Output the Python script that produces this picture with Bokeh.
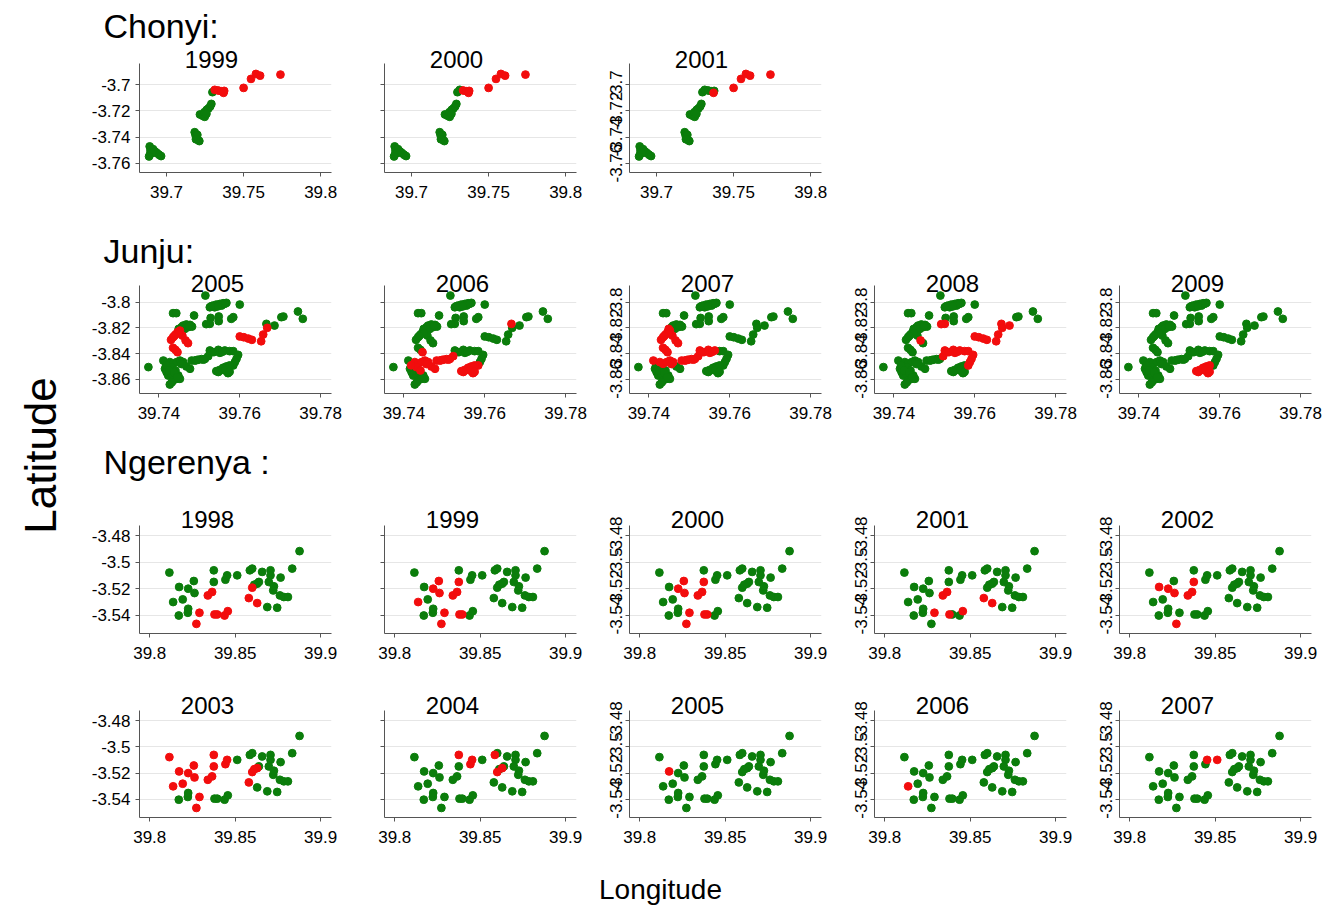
import math
from bokeh.plotting import figure
from bokeh.layouts import row, column
from bokeh.models import Label, FixedTicker, Range1d
from bokeh.embed import file_html
from bokeh.resources import INLINE

FONT = "Liberation Sans"
GREEN = "#0b7d0b"
RED = "#f20d0d"
AXC = "#555555"

# ---------------- Chonyi ----------------
chonyi_lon = [39.6891, 39.6896, 39.6893, 39.6913, 39.6926, 39.6939, 39.6952, 39.6965, 39.6907, 39.6887,
              39.7183, 39.7189, 39.7196, 39.7204, 39.7213, 39.7200, 39.7191,
              39.7217, 39.7235, 39.7248, 39.7246, 39.7261, 39.7272, 39.7283, 39.7291, 39.7259,
              39.7298, 39.7313, 39.7335, 39.7357, 39.7374, 39.7370, 39.7500, 39.7548, 39.7580, 39.7607, 39.7739]
chonyi_lat = [-3.7472, -3.7503, -3.7534, -3.7493, -3.7511, -3.7523, -3.7536, -3.7546, -3.7523, -3.7549,
              -3.7363, -3.7388, -3.7409, -3.7421, -3.7431, -3.7383, -3.7417,
              -3.7227, -3.7237, -3.7245, -3.7209, -3.7191, -3.7181, -3.7166, -3.7146, -3.7222,
              -3.7056, -3.7038, -3.7043, -3.7049, -3.7046, -3.7061, -3.7023, -3.6954, -3.6916, -3.6929, -3.6921]
chonyi_years = ["1999", "2000", "2001"]
# household numbers (1-based) shown in red for each year
chonyi_red_1999 = [28, 29, 30, 31, 32, 33, 34, 35, 36, 37]
chonyi_red_2000 = [29, 30, 31, 32, 33, 34, 35, 36, 37]
chonyi_red_2001 = [32, 33, 34, 35, 36, 37]
chonyi_xticks = [39.7, 39.75, 39.8]
chonyi_xlabels = ["39.7", "39.75", "39.8"]
chonyi_yticks = [-3.7, -3.72, -3.74, -3.76]
chonyi_ylabels = ["-3.7", "-3.72", "-3.74", "-3.76"]

# ---------------- Junju ----------------
junju_lon = [39.7374, 39.7515, 39.7526, 39.7534, 39.7542, 39.7551, 39.7559, 39.7567, 39.7538, 39.7555,
             39.7600, 39.7435, 39.7443, 39.7487, 39.7528, 39.7526, 39.7548, 39.7548, 39.7579, 39.7584,
             39.7460, 39.7468, 39.7477, 39.7482, 39.7456, 39.7452, 39.7446, 39.7441, 39.7435, 39.7430,
             39.7449, 39.7464, 39.7472, 39.7600, 39.7610, 39.7621, 39.7630, 39.7653, 39.7658, 39.7666,
             39.7668, 39.7686, 39.7703, 39.7708, 39.7744, 39.7756, 39.7435, 39.7441, 39.7446, 39.7481,
             39.7489, 39.7497, 39.7505, 39.7514, 39.7522, 39.7526, 39.7536, 39.7547, 39.7551, 39.7563,
             39.7575, 39.7584, 39.7596, 39.7592, 39.7588, 39.7584, 39.7411, 39.7415, 39.7419, 39.7427,
             39.7435, 39.7444, 39.7452, 39.7460, 39.7468, 39.7477, 39.7423, 39.7431, 39.7440, 39.7448,
             39.7435, 39.7444, 39.7427, 39.7452, 39.7431, 39.7441, 39.7542, 39.7551, 39.7559, 39.7567,
             39.7575, 39.7571, 39.7563, 39.7458, 39.7466, 39.7472, 39.7517, 39.7530, 39.7563, 39.7546,
             39.7450, 39.7438, 39.7475, 39.7493, 39.7510, 39.7557, 39.7418, 39.7425, 39.7438, 39.7445,
             39.7432, 39.7456, 39.7547, 39.7575]
junju_lat = [-3.8504, -3.7948, -3.8039, -3.8026, -3.8018, -3.8013, -3.8008, -3.8005, -3.8039, -3.8026,
             -3.8018, -3.8085, -3.8085, -3.8103, -3.8122, -3.8168, -3.8111, -3.8147, -3.8129, -3.8116,
             -3.8181, -3.8173, -3.8176, -3.8189, -3.8194, -3.8220, -3.8233, -3.8251, -3.8272, -3.8292,
             -3.8207, -3.8207, -3.8194, -3.8266, -3.8272, -3.8282, -3.8292, -3.8303, -3.8251, -3.8168,
             -3.8199, -3.8181, -3.8116, -3.8111, -3.8072, -3.8129, -3.8354, -3.8370, -3.8388, -3.8453,
             -3.8453, -3.8447, -3.8442, -3.8440, -3.8419, -3.8375, -3.8388, -3.8370, -3.8393, -3.8375,
             -3.8380, -3.8380, -3.8409, -3.8440, -3.8465, -3.8491, -3.8453, -3.8517, -3.8543, -3.8465,
             -3.8478, -3.8465, -3.8453, -3.8465, -3.8499, -3.8517, -3.8569, -3.8556, -3.8569, -3.8569,
             -3.8608, -3.8595, -3.8639, -3.8595, -3.8504, -3.8530, -3.8535, -3.8525, -3.8509, -3.8499,
             -3.8491, -3.8551, -3.8530, -3.8259, -3.8297, -3.8318, -3.8170, -3.8030, -3.8012, -3.8032,
             -3.8240, -3.8262, -3.8185, -3.8450, -3.8446, -3.8385, -3.8490, -3.8530, -3.8545, -3.8582,
             -3.8622, -3.8480, -3.8542, -3.8540]
junju_years = ["2005", "2006", "2007", "2008", "2009"]
junju_red_2005 = [26, 27, 28, 29, 30, 94, 95, 96, 47, 48, 49, 34, 35, 36, 37, 38, 39, 41, 101, 102]
junju_red_2006 = [49, 50, 51, 52, 53, 54, 55, 70, 71, 72, 73, 74, 75, 76, 85, 86,
                  87, 88, 89, 90, 91, 92, 93, 66, 40, 104, 105, 107, 112, 113, 114]
junju_red_2007 = [26, 27, 28, 29, 30, 31, 94, 95, 96, 47, 48, 49, 67, 70, 71, 72, 73, 74,
                  50, 51, 52, 53, 54, 55, 56, 57, 58, 59, 60, 101, 102, 104, 105, 106, 112]
junju_red_2008 = [95, 16, 97, 55, 56, 57, 58, 59, 60, 61, 62, 63, 64, 65, 66,
                  34, 35, 36, 37, 38, 39, 40, 41, 42, 106]
junju_red_2009 = [87, 88, 89, 90, 91, 92, 93, 113, 114]
junju_xticks = [39.74, 39.76, 39.78]
junju_xlabels = ["39.74", "39.76", "39.78"]
junju_yticks = [-3.8, -3.82, -3.84, -3.86]
junju_ylabels = ["-3.8", "-3.82", "-3.84", "-3.86"]

# ---------------- Ngerenya ----------------
ngerenya_lon = [39.8115, 39.8137, 39.8172, 39.8193, 39.8170, 39.8225, 39.8223, 39.8225, 39.8258, 39.8262,
                39.8375, 39.8375, 39.8443, 39.8453, 39.8512, 39.8586, 39.8600, 39.8629, 39.8639, 39.8658,
                39.8688, 39.8707, 39.8707, 39.8697, 39.8723, 39.8727, 39.8746, 39.8766, 39.8762, 39.8785,
                39.8809, 39.8834, 39.8877, 39.8291, 39.8340, 39.8365, 39.8379, 39.8395, 39.8438, 39.8457,
                39.8600, 39.8580, 39.8629, 39.8273, 39.8612]
ngerenya_lat = [-3.5078, -3.5301, -3.5187, -3.5281, -3.5403, -3.5200, -3.5382, -3.5352, -3.5142, -3.5233,
                -3.5061, -3.5149, -3.5132, -3.5099, -3.5099, -3.5061, -3.5048, -3.5162, -3.5149, -3.5073,
                -3.5339, -3.5061, -3.5099, -3.5149, -3.5213, -3.5182, -3.5344, -3.5116, -3.5251, -3.5263,
                -3.5263, -3.5048, -3.4916, -3.5382, -3.5251, -3.5225, -3.5395, -3.5395, -3.5403, -3.5370,
                -3.5192, -3.5271, -3.5309, -3.5466, -3.5170]
ngerenya_years = ["1998", "1999", "2000", "2001", "2002", "2003", "2004", "2005", "2006", "2007"]
ngerenya_red_1998 = [34, 35, 36, 37, 38, 39, 40, 41, 42, 43, 44]
ngerenya_red_1999 = [2, 6, 9, 10, 12, 34, 35, 36, 37, 38, 44]
ngerenya_red_2000 = [6, 9, 10, 12, 34, 35, 36, 37, 38, 44]
ngerenya_red_2001 = [34, 35, 36, 37, 40, 42, 43]
ngerenya_red_2002 = [3, 6, 10, 12, 35, 36, 44]
ngerenya_red_2003 = [1, 2, 3, 4, 6, 9, 10, 11, 12, 13, 14, 18, 34, 35, 36, 41, 42, 44, 45]
ngerenya_red_2004 = [11, 13, 14, 16, 18, 41]
ngerenya_red_2005 = [3]
ngerenya_red_2006 = [2]
ngerenya_red_2007 = [14, 15]
ngerenya_xticks = [39.8, 39.85, 39.9]
ngerenya_xlabels = ["39.8", "39.85", "39.9"]
ngerenya_yticks = [-3.48, -3.5, -3.52, -3.54]
ngerenya_ylabels = ["-3.48", "-3.5", "-3.52", "-3.54"]

chonyi_red = [chonyi_red_1999, chonyi_red_2000, chonyi_red_2001]
junju_red = [junju_red_2005, junju_red_2006, junju_red_2007, junju_red_2008, junju_red_2009]
ngerenya_red = [ngerenya_red_1998, ngerenya_red_1999, ngerenya_red_2000, ngerenya_red_2001,
                ngerenya_red_2002, ngerenya_red_2003, ngerenya_red_2004, ngerenya_red_2005,
                ngerenya_red_2006, ngerenya_red_2007]

CH_X, CH_Y = (39.6825, 39.807), (-3.7672, -3.6836)
JU_X, JU_Y = (39.7352, 39.7827), (-3.8709, -3.7870)
NG_X, NG_Y = (39.794, 39.9064), (-3.5539, -3.4722)

FW = 192
TOTAL_W = 1323
LEFT_W = 88


def make_panel(lon, lat, red_ids, year, col, xr, yr, xt, xl, yt, yl, height, bottom, ext, title_dx, title_dy):
    lb = 51 if col == 0 else 39
    rb = 12 if col == 4 else 14
    fh = height - bottom          # frame height (frame starts at the top of the figure)
    ah = fh - ext                 # height of the axis region
    y_top = yr[1] + ext * (yr[1] - yr[0]) / ah
    p = figure(width=lb + FW + rb, height=height, x_range=Range1d(*xr), y_range=Range1d(yr[0], y_top),
               output_backend="svg", toolbar_location=None, title=None,
               min_border_left=lb, min_border_right=rb, min_border_top=0, min_border_bottom=bottom)
    p.outline_line_color = None
    p.background_fill_color = "white"
    p.border_fill_color = "white"
    p.xgrid.visible = False
    p.ygrid.ticker = FixedTicker(ticks=yt)
    p.ygrid.grid_line_color = "#e6e6e6"
    p.ygrid.grid_line_width = 1

    red_set = set(h - 1 for h in red_ids)
    g = [i for i in range(len(lon)) if i not in red_set]
    r = sorted(red_set)
    p.scatter([lon[i] for i in g], [lat[i] for i in g], size=7.8, fill_color=GREEN, line_color=GREEN)
    p.scatter([lon[i] for i in r], [lat[i] for i in r], size=7.8, fill_color=RED, line_color=RED)

    for ax, ticks, labels in ((p.xaxis[0], xt, xl), (p.yaxis[0], yt, yl)):
        ax.ticker = FixedTicker(ticks=ticks)
        ax.major_label_overrides = {t: s for t, s in zip(ticks, labels)}
        ax.minor_tick_line_color = None
        ax.major_tick_in = 0
        ax.major_tick_out = 4
        ax.axis_line_color = AXC
        ax.major_tick_line_color = AXC
        ax.major_label_text_font = FONT
        ax.major_label_text_font_size = "17px"
        ax.major_label_text_color = "black"
    p.xaxis[0].major_label_standoff = 9
    p.yaxis[0].bounds = (yr[0], yr[1])
    if col == 0:
        p.yaxis[0].major_label_standoff = 5
    elif col == 1:
        p.yaxis[0].major_label_overrides = {t: "" for t in yt}
    else:
        p.yaxis[0].major_label_orientation = "vertical"
        p.yaxis[0].major_label_standoff = 3

    p.add_layout(Label(x=title_dx, y=ah + title_dy, x_units="screen", y_units="screen", text=year,
                       text_align="center", text_baseline="middle", text_font=FONT,
                       text_font_size="24px", text_color="black"))
    return p


def strip(height, texts):
    s = figure(width=TOTAL_W - LEFT_W, height=height, x_axis_type=None, y_axis_type=None,
               toolbar_location=None, output_backend="svg", title=None, min_border=0,
               x_range=Range1d(0, 1), y_range=Range1d(0, 1))
    s.outline_line_color = None
    s.grid.visible = False
    for text, x, y, size, align in texts:
        s.add_layout(Label(x=x, y=y, x_units="screen", y_units="screen", text=text,
                           text_align=align, text_baseline="middle", text_font=FONT,
                           text_font_size=size, text_color="black"))
    return s


strip1 = strip(45, [("Chonyi:", 15, 19.5, "34px", "left")])
row1 = [make_panel(chonyi_lon, chonyi_lat, chonyi_red[i], chonyi_years[i], i, CH_X, CH_Y,
                   chonyi_xticks, chonyi_xlabels, chonyi_yticks, chonyi_ylabels, 183, 56, 18, 72, 4.5)
        for i in range(3)]

strip2 = strip(41, [("Junju:", 15, 19, "34px", "left")])
row2 = [make_panel(junju_lon, junju_lat, junju_red[i], junju_years[i], i, JU_X, JU_Y,
                   junju_xticks, junju_xlabels, junju_yticks, junju_ylabels, 171, 47, 16, 78, 2.5)
        for i in range(5)]

strip3 = strip(50, [("Ngerenya :", 15, 29, "34px", "left")])
row3 = [make_panel(ngerenya_lon, ngerenya_lat, ngerenya_red[i], ngerenya_years[i], i, NG_X, NG_Y,
                   ngerenya_xticks, ngerenya_xlabels, ngerenya_yticks, ngerenya_ylabels, 192, 49, 35, 68, 6)
        for i in range(5)]
row4 = [make_panel(ngerenya_lon, ngerenya_lat, ngerenya_red[i + 5], ngerenya_years[i + 5], i, NG_X, NG_Y,
                   ngerenya_xticks, ngerenya_xlabels, ngerenya_yticks, ngerenya_ylabels, 180, 45, 28, 68, 5.5)
        for i in range(5)]
strip4 = strip(46, [("Longitude", 572, 19, "28px", "center")])

lat_fig = figure(width=LEFT_W, height=908, x_axis_type=None, y_axis_type=None, toolbar_location=None,
                 output_backend="svg", title=None, min_border=0, x_range=Range1d(0, 1), y_range=Range1d(0, 1))
lat_fig.outline_line_color = None
lat_fig.grid.visible = False
lat_fig.add_layout(Label(x=40, y=453, x_units="screen", y_units="screen", text="Latitude", angle=math.pi / 2,
                         text_align="center", text_baseline="middle", text_font=FONT,
                         text_font_size="44px", text_color="black"))

layout = row(lat_fig, column(strip1, row(*row1), strip2, row(*row2), strip3, row(*row3),
                             row(*row4), strip4))

open("out.html", "w").write(file_html(layout, INLINE))
